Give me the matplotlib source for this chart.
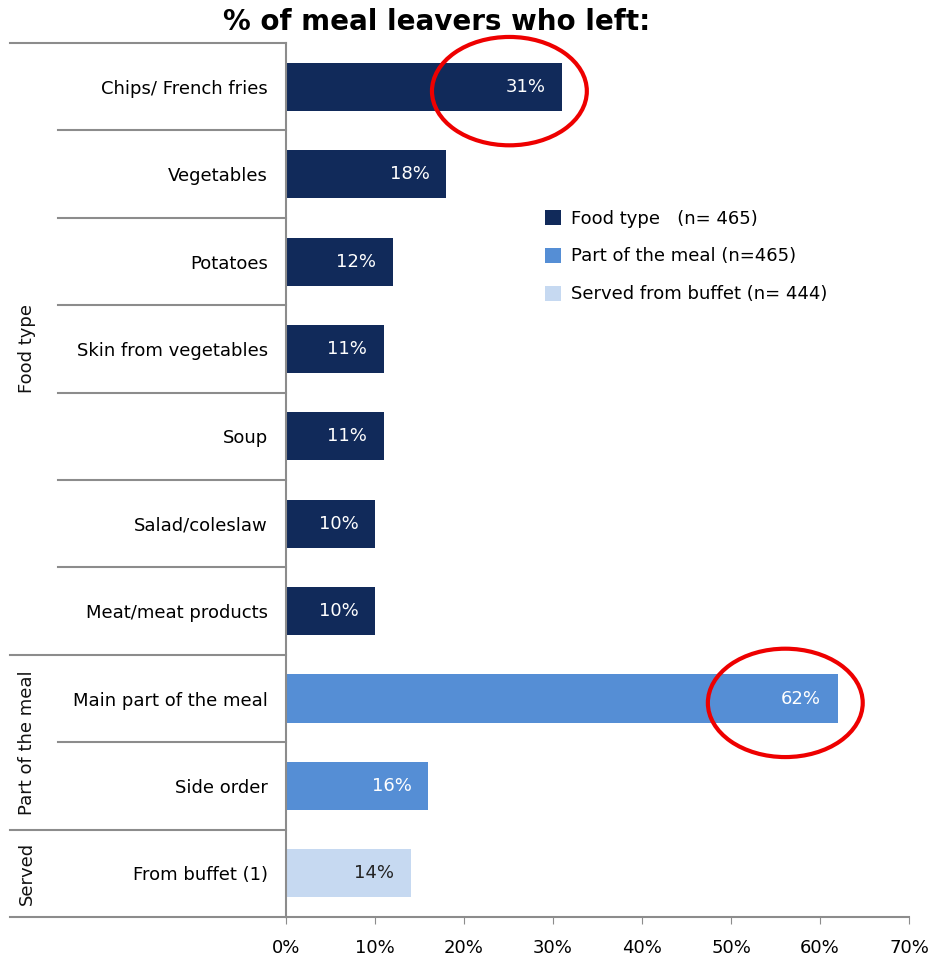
import matplotlib.pyplot as plt
from matplotlib.patches import Ellipse, Patch
from matplotlib.transforms import blended_transform_factory

# Share of meal leavers who left each item
categories = [
    "Chips/ French fries", "Vegetables", "Potatoes", "Skin from vegetables",
    "Soup", "Salad/coleslaw", "Meat/meat products",
    "Main part of the meal", "Side order", "From buffet (1)",
]
values = [31, 18, 12, 11, 11, 10, 10, 62, 16, 14]
groups = [0, 0, 0, 0, 0, 0, 0, 1, 1, 2]

group_names = ["Food type", "Part of the meal", "Served"]
legend_labels = ["Food type   (n= 465)", "Part of the meal (n=465)", "Served from buffet (n= 444)"]
group_colors = ["#112a5a", "#558ed5", "#c6d9f1"]
label_colors = ["white", "white", "#222222"]

highlighted = [0, 7]
x_ticks = [0, 10, 20, 30, 40, 50, 60, 70]

plt.rcParams["font.family"] = ["DejaVu Sans"]
grey = "#8c8c8c"

fig = plt.figure(figsize=(9.35, 9.57), dpi=100)
ax = fig.add_axes([0.3059, 0.0418, 0.6663, 0.9132])

ypos = list(range(len(categories)))
colors = [group_colors[g] for g in groups]
ax.barh(ypos, values, height=0.55, color=colors, zorder=2)

for y, v, g in zip(ypos, values, groups):
    ax.annotate(f"{v}%", xy=(v, y), xytext=(-12, 0), textcoords="offset points",
                ha="right", va="center", fontsize=13, color=label_colors[g], zorder=3)

ax.set_ylim(len(categories) - 0.5, -0.5)
ax.set_xlim(0, 70)
ax.set_xticks(x_ticks)
ax.set_xticklabels([f"{t}%" for t in x_ticks], fontsize=13)
ax.set_yticks(ypos)
ax.set_yticklabels(categories, fontsize=13)
ax.tick_params(axis="y", length=0, pad=13)
ax.tick_params(axis="x", length=5, color=grey, pad=11)

for side in ["top", "right"]:
    ax.spines[side].set_visible(False)
for side in ["left", "bottom"]:
    ax.spines[side].set_color(grey)
    ax.spines[side].set_linewidth(1.5)

# Row separators on the left; group boundaries run further out
trans = blended_transform_factory(ax.transAxes, ax.transData)
bounds = [i - 0.5 for i in range(len(groups) + 1)]
for i, b in enumerate(bounds):
    is_group_edge = i == 0 or i == len(groups) or groups[i] != groups[i - 1]
    x0 = -0.443 if is_group_edge else -0.366
    ax.plot([x0, 0], [b, b], color=grey, lw=1.5, transform=trans, clip_on=False)

# Rotated group names
for gi, name in enumerate(group_names):
    members = [i for i, g in enumerate(groups) if g == gi]
    mid = (members[0] + members[-1]) / 2
    ax.text(-0.416, mid, name, transform=trans, rotation=90, ha="center",
            va="center", fontsize=13, color="#111111")

# Red circles around the highlighted bars
for idx in highlighted:
    ax.add_patch(Ellipse((values[idx] - 5.9, idx + 0.05), 17.4, 1.24, fill=False,
                         edgecolor="#ee0000", lw=3, zorder=4, clip_on=False))

handles = [Patch(facecolor=c, edgecolor="none") for c in group_colors]
ax.legend(handles, legend_labels, loc="upper left", bbox_to_anchor=(0.39, 0.828),
          frameon=False, fontsize=13, handlelength=0.9, handleheight=0.9,
          handletextpad=0.5, labelspacing=1.1)

fig.text(0.467, 0.977, "% of meal leavers who left:", ha="center", va="center",
         fontsize=20, fontweight="bold")

fig.savefig("out.png", dpi=100)
